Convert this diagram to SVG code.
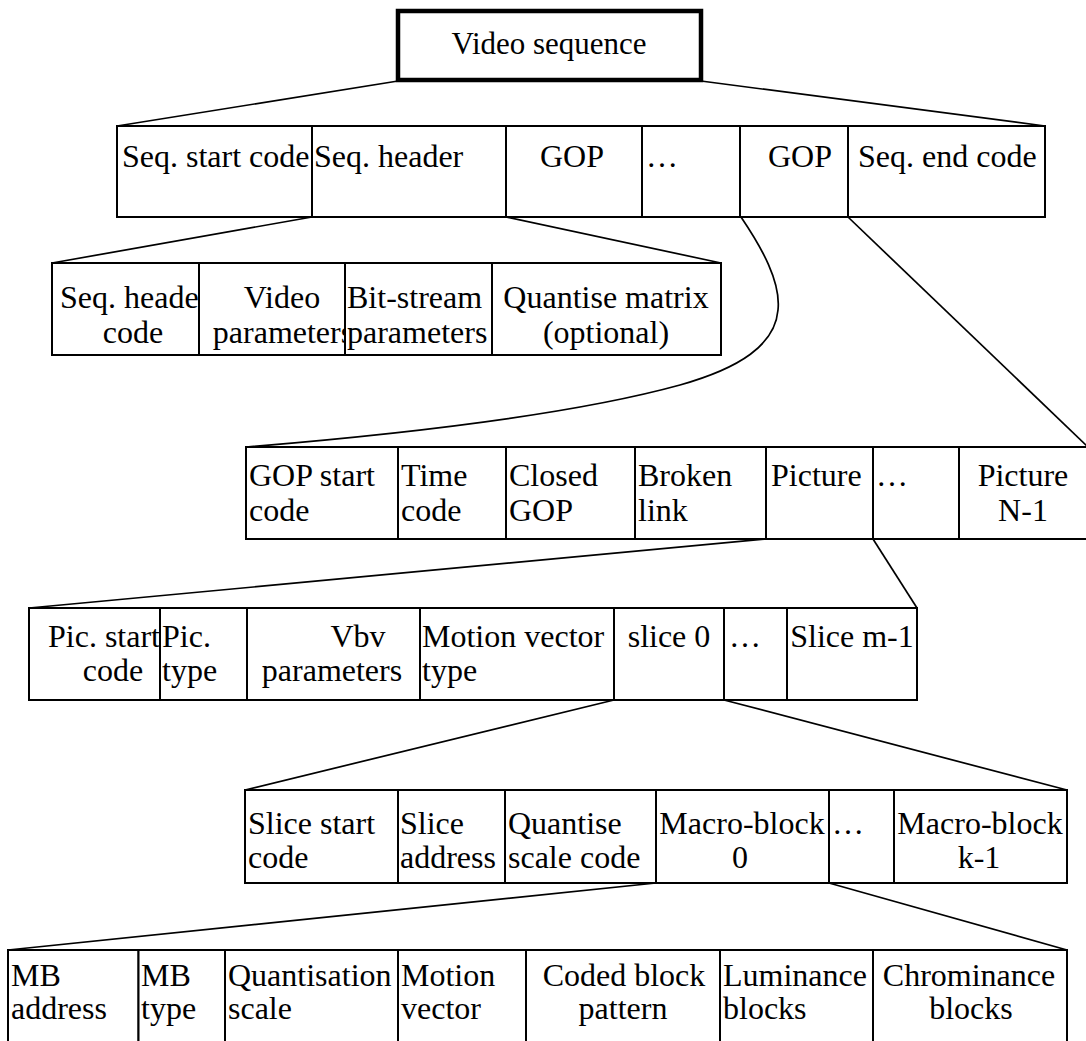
<svg xmlns="http://www.w3.org/2000/svg" width="1086" height="1041" viewBox="0 0 1086 1041">
  <style>
    .cell { fill: #fff; stroke: #000; stroke-width: 2; }
    .title { fill: #fff; stroke: #000; stroke-width: 4.5; }
    .t { font-family: "Liberation Serif", "Times New Roman", serif; font-size: 32px; fill: #000; }
    .m { text-anchor: middle; }
    .link { fill: none; stroke: #000; stroke-width: 1.7; }
  </style>
  <defs>
    <clipPath id="clip-video-params"><rect x="199" y="263" width="146" height="92"/></clipPath>
  </defs>
  <rect width="1086" height="1041" fill="#fff"/>

  <!-- expansion connectors between levels -->
  <g id="connectors">
    <line class="link" x1="398" y1="81" x2="117" y2="126"/>
    <line class="link" x1="701" y1="81" x2="1045" y2="126"/>
    <line class="link" x1="312" y1="217" x2="52" y2="263"/>
    <line class="link" x1="506" y1="217" x2="721" y2="263"/>
    <path class="link" d="M741,217 C762,248 781,282 778,310 C775,345 740,368 680,385 C560,418 380,436 246,447"/>
    <line class="link" x1="848" y1="217" x2="1088" y2="447"/>
    <line class="link" x1="766" y1="539" x2="29" y2="608"/>
    <line class="link" x1="873" y1="539" x2="917" y2="608"/>
    <line class="link" x1="614" y1="700" x2="245" y2="790"/>
    <line class="link" x1="724" y1="700" x2="1067" y2="790"/>
    <line class="link" x1="656" y1="883" x2="8" y2="950"/>
    <line class="link" x1="829" y1="883" x2="1067" y2="950"/>
  </g>

  <!-- level 1 -->
  <g id="video-sequence">
    <rect class="title" x="398" y="11" width="303" height="69"/>
    <text class="t m" x="549" y="54" style="font-size:31px">Video sequence</text>
  </g>

  <!-- level 2: sequence -->
  <g id="seq-start-code">
    <rect class="cell" x="117" y="126" width="195" height="91"/>
    <text class="t" x="122" y="167">Seq. start code</text>
  </g>
  <g id="seq-header">
    <rect class="cell" x="312" y="126" width="194" height="91"/>
    <text class="t" x="314" y="167">Seq. header</text>
  </g>
  <g id="gop-first">
    <rect class="cell" x="506" y="126" width="136" height="91"/>
    <text class="t m" x="572" y="167">GOP</text>
  </g>
  <g id="gop-ellipsis">
    <rect class="cell" x="642" y="126" width="98" height="91"/>
    <text class="t" x="646" y="167">…</text>
  </g>
  <g id="gop-last">
    <rect class="cell" x="740" y="126" width="108" height="91"/>
    <text class="t m" x="800" y="167">GOP</text>
  </g>
  <g id="seq-end-code">
    <rect class="cell" x="848" y="126" width="197" height="91"/>
    <text class="t" x="858" y="167">Seq. end code</text>
  </g>

  <!-- level 3: sequence header -->
  <g id="seq-header-code">
    <rect class="cell" x="52" y="263" width="147" height="92"/>
    <text class="t" x="60" y="308">Seq. heade</text>
    <text class="t m" x="133" y="343">code</text>
  </g>
  <g id="video-parameters">
    <rect class="cell" x="199" y="263" width="146" height="92"/>
    <g clip-path="url(#clip-video-params)">
      <text class="t m" x="282" y="308">Video</text>
      <text class="t m" x="283" y="343">parameters</text>
    </g>
  </g>
  <g id="bitstream-parameters">
    <rect class="cell" x="345" y="263" width="147" height="92"/>
    <text class="t" x="347" y="308">Bit-stream</text>
    <text class="t" x="347" y="343">parameters</text>
  </g>
  <g id="quantise-matrix">
    <rect class="cell" x="492" y="263" width="229" height="92"/>
    <text class="t m" x="606" y="308">Quantise matrix</text>
    <text class="t m" x="606" y="343">(optional)</text>
  </g>

  <!-- level 4: group of pictures -->
  <g id="gop-start-code">
    <rect class="cell" x="246" y="447" width="152" height="92"/>
    <text class="t" x="249" y="486">GOP start</text>
    <text class="t" x="249" y="521">code</text>
  </g>
  <g id="time-code">
    <rect class="cell" x="398" y="447" width="108" height="92"/>
    <text class="t" x="401" y="486">Time</text>
    <text class="t" x="401" y="521">code</text>
  </g>
  <g id="closed-gop">
    <rect class="cell" x="506" y="447" width="129" height="92"/>
    <text class="t" x="509" y="486">Closed</text>
    <text class="t" x="509" y="521">GOP</text>
  </g>
  <g id="broken-link">
    <rect class="cell" x="635" y="447" width="131" height="92"/>
    <text class="t" x="638" y="486">Broken</text>
    <text class="t" x="638" y="521">link</text>
  </g>
  <g id="picture-first">
    <rect class="cell" x="766" y="447" width="107" height="92"/>
    <text class="t" x="771" y="486">Picture</text>
  </g>
  <g id="picture-ellipsis">
    <rect class="cell" x="873" y="447" width="86" height="92"/>
    <text class="t" x="876" y="486">…</text>
  </g>
  <g id="picture-last">
    <rect class="cell" x="959" y="447" width="129" height="92"/>
    <text class="t m" x="1023" y="486">Picture</text>
    <text class="t m" x="1023" y="521">N-1</text>
  </g>

  <!-- level 5: picture -->
  <g id="pic-start-code">
    <rect class="cell" x="29" y="608" width="131" height="92"/>
    <text class="t" x="48" y="647">Pic. start</text>
    <text class="t m" x="113" y="681">code</text>
  </g>
  <g id="pic-type">
    <rect class="cell" x="160" y="608" width="87" height="92"/>
    <text class="t" x="162" y="647">Pic.</text>
    <text class="t" x="162" y="681">type</text>
  </g>
  <g id="vbv-parameters">
    <rect class="cell" x="247" y="608" width="173" height="92"/>
    <text class="t m" x="358" y="647">Vbv</text>
    <text class="t m" x="332" y="681">parameters</text>
  </g>
  <g id="motion-vector-type">
    <rect class="cell" x="420" y="608" width="194" height="92"/>
    <text class="t" x="422" y="647">Motion vector</text>
    <text class="t" x="422" y="681">type</text>
  </g>
  <g id="slice-first">
    <rect class="cell" x="614" y="608" width="110" height="92"/>
    <text class="t m" x="669" y="647">slice 0</text>
  </g>
  <g id="slice-ellipsis">
    <rect class="cell" x="724" y="608" width="63" height="92"/>
    <text class="t" x="729" y="647">…</text>
  </g>
  <g id="slice-last">
    <rect class="cell" x="787" y="608" width="130" height="92"/>
    <text class="t m" x="852" y="647">Slice m-1</text>
  </g>

  <!-- level 6: slice -->
  <g id="slice-start-code">
    <rect class="cell" x="245" y="790" width="153" height="93"/>
    <text class="t" x="248" y="834">Slice start</text>
    <text class="t" x="248" y="868">code</text>
  </g>
  <g id="slice-address">
    <rect class="cell" x="398" y="790" width="107" height="93"/>
    <text class="t" x="400" y="834">Slice</text>
    <text class="t" x="400" y="868">address</text>
  </g>
  <g id="quantise-scale-code">
    <rect class="cell" x="505" y="790" width="151" height="93"/>
    <text class="t" x="508" y="834">Quantise</text>
    <text class="t" x="508" y="868">scale code</text>
  </g>
  <g id="macroblock-first">
    <rect class="cell" x="656" y="790" width="173" height="93"/>
    <text class="t m" x="742" y="834">Macro-block</text>
    <text class="t m" x="740" y="868">0</text>
  </g>
  <g id="macroblock-ellipsis">
    <rect class="cell" x="829" y="790" width="65" height="93"/>
    <text class="t" x="832" y="834">…</text>
  </g>
  <g id="macroblock-last">
    <rect class="cell" x="894" y="790" width="173" height="93"/>
    <text class="t m" x="980" y="834">Macro-block</text>
    <text class="t m" x="979" y="868">k-1</text>
  </g>

  <!-- level 7: macro-block -->
  <g id="mb-address">
    <rect class="cell" x="8" y="950" width="130.5" height="95"/>
    <text class="t" x="11" y="986">MB</text>
    <text class="t" x="11" y="1019">address</text>
  </g>
  <g id="mb-type">
    <rect class="cell" x="138.5" y="950" width="86.5" height="95"/>
    <text class="t" x="141" y="986">MB</text>
    <text class="t" x="141" y="1019">type</text>
  </g>
  <g id="quantisation-scale">
    <rect class="cell" x="225" y="950" width="173" height="95"/>
    <text class="t" x="228" y="986">Quantisation</text>
    <text class="t" x="228" y="1019">scale</text>
  </g>
  <g id="motion-vector">
    <rect class="cell" x="398" y="950" width="128" height="95"/>
    <text class="t" x="401" y="986">Motion</text>
    <text class="t" x="401" y="1019">vector</text>
  </g>
  <g id="coded-block-pattern">
    <rect class="cell" x="526" y="950" width="194" height="95"/>
    <text class="t m" x="624" y="986">Coded block</text>
    <text class="t m" x="623" y="1019">pattern</text>
  </g>
  <g id="luminance-blocks">
    <rect class="cell" x="720" y="950" width="153" height="95"/>
    <text class="t" x="723" y="986">Luminance</text>
    <text class="t" x="723" y="1019">blocks</text>
  </g>
  <g id="chrominance-blocks">
    <rect class="cell" x="873" y="950" width="194" height="95"/>
    <text class="t m" x="969" y="986">Chrominance</text>
    <text class="t m" x="971" y="1019">blocks</text>
  </g>
</svg>
